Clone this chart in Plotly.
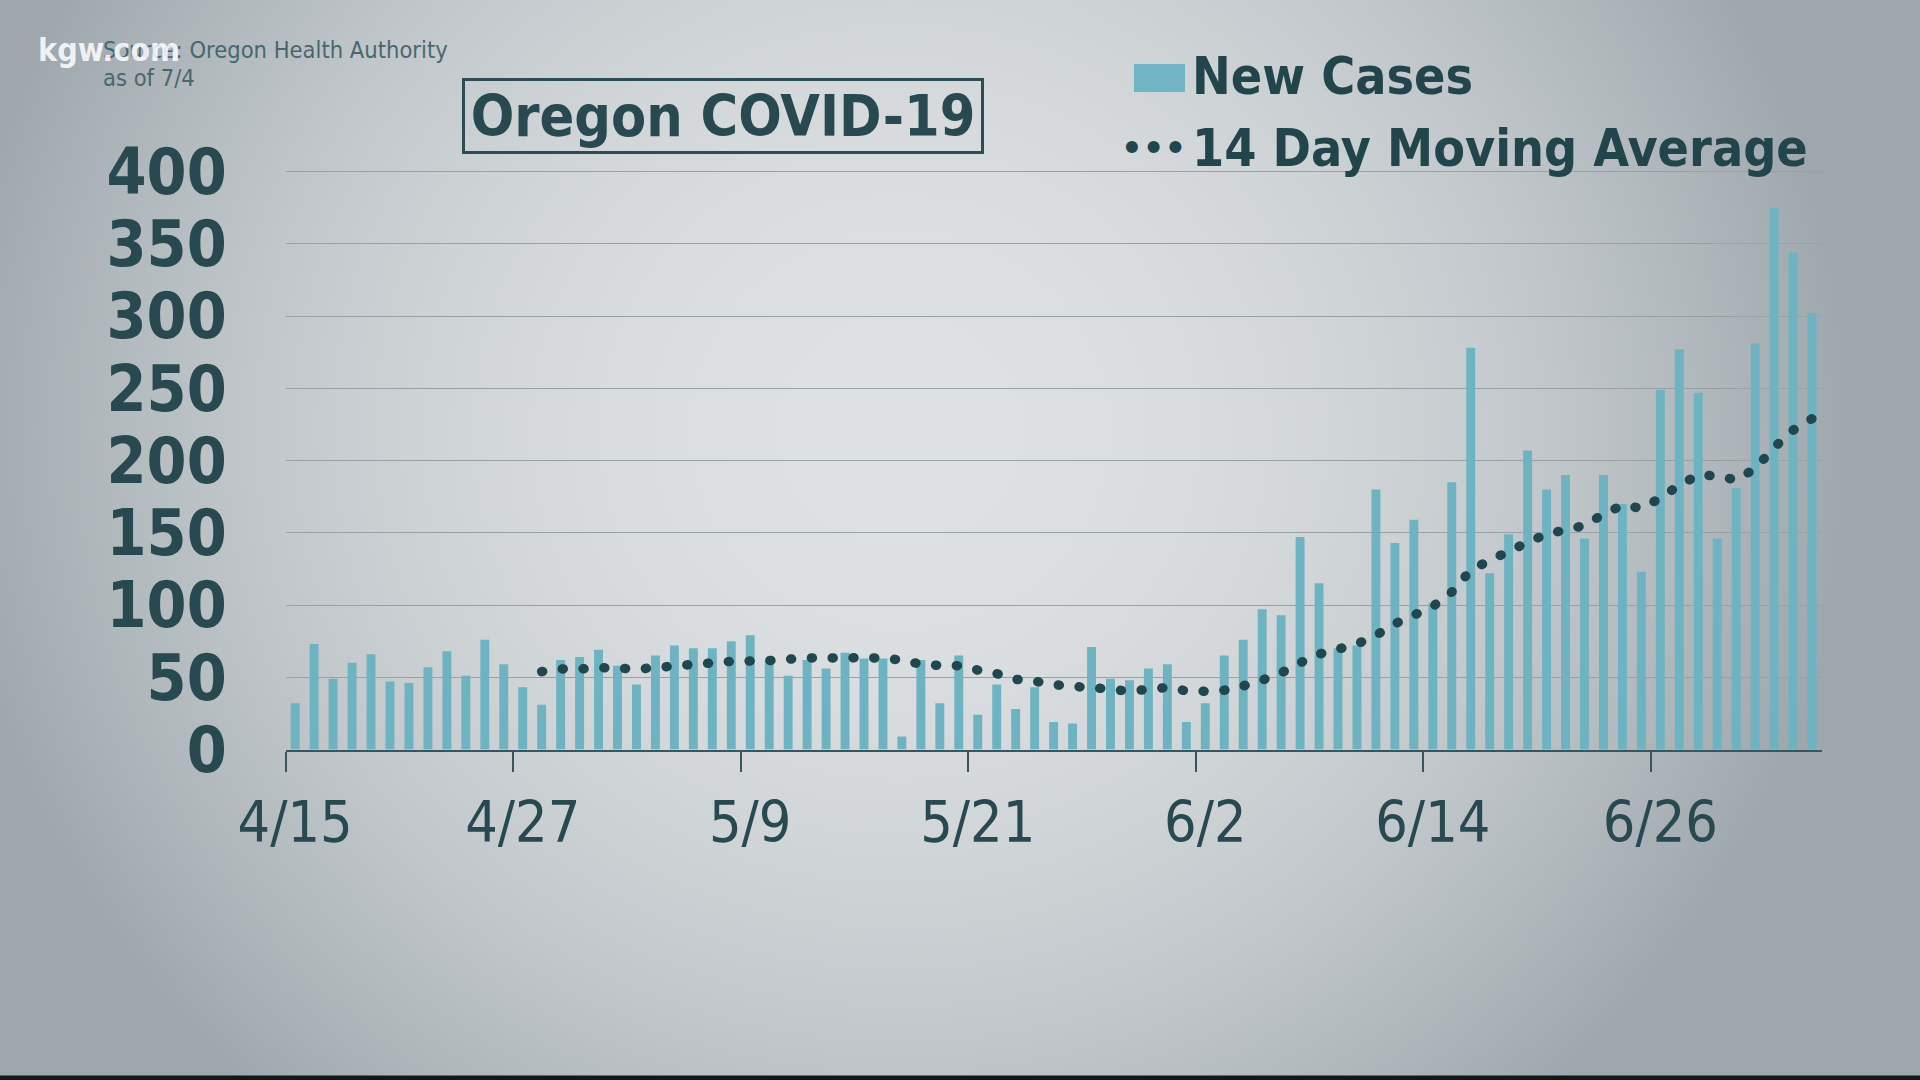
import base64
import struct
import zlib

import numpy as np
import pandas as pd
import plotly.graph_objects as go

# ---------------- data ----------------
start_date = "2020-04-15"
end_date = "2020-07-04"

new_cases = [
    # April 15-30
    32, 73, 49, 60, 66, 47, 46, 57, 68, 51, 76, 59, 43, 31, 62, 64,
    # May 1-31
    69, 58, 45, 65, 72, 70, 70, 75, 79, 61, 51, 62, 56, 67, 63, 63,
    9, 62, 32, 65, 24, 45, 28, 43, 19, 18, 71, 49, 48, 56, 59,
    # June 1-30
    19, 32, 65, 76, 97, 93, 147, 115, 70, 72, 180, 143, 159, 101, 185,
    278, 122, 149, 207, 180, 190, 146, 190, 170, 123, 249, 277, 247, 146, 181,
    # July 1-4
    281, 375, 344, 302,
]

ma_start_date = "2020-04-28"
moving_avg = [
    53.9, 55.8, 55.7, 56.6, 56.3, 55.8, 56.5, 57.9, 58.9, 59.9,      # 4/28 - 5/7
    61.0, 61.3, 61.6, 62.5, 63.4, 63.4, 63.3, 63.8, 63.0, 62.0,      # 5/8 - 5/17
    59.0, 58.2, 58.0, 55.0, 52.5, 48.6, 47.3, 45.0, 43.5, 43.1,      # 5/18 - 5/27
    41.5, 40.5, 41.5, 43.0, 40.6, 40.3, 41.0, 44.0, 48.0, 53.0,      # 5/28 - 6/6
    60.0, 66.0, 69.5, 73.0, 79.0, 87.0, 93.0, 99.0, 109.0, 124.0,    # 6/7 - 6/16
    131.0, 137.0, 143.5, 149.0, 152.0, 155.0, 163.0, 169.0, 167.0, 174.0,  # 6/17 - 6/26
    183.0, 190.0, 189.5, 186.5, 194.5, 209.0, 221.0, 229.0,          # 6/27 - 7/4
]

y_ticks = [0, 50, 100, 150, 200, 250, 300, 350, 400]
label_every = 12

title_text = "Oregon COVID-19"
legend_bar_text = "New Cases"
legend_line_text = "14 Day Moving Average"
source_line1 = "Source: Oregon Health Authority"
source_line2 = "as of 7/4"
watermark = "kgw.com"

# ---------------- derived ----------------
dates = pd.date_range(start_date, end_date, freq="D")
ma_dates = pd.date_range(ma_start_date, periods=len(moving_avg), freq="D")
label_dates = dates[::label_every]
label_text = [f"{d.month}/{d.day}" for d in label_dates]
half_day = pd.Timedelta(hours=12)
boundary_dates = label_dates - half_day
x_range = [dates[0] - half_day, dates[-1] + half_day]

W, H = 1920, 1080
COND = "DejaVu Sans Condensed, DejaVu Sans, sans-serif"
DARK = "#27494f"


# ---------------- background vignette as an image ----------------
def png_data_uri(arr):
    h, w, _ = arr.shape
    raw = b"".join(b"\x00" + arr[i].tobytes() for i in range(h))

    def chunk(tag, data):
        c = struct.pack(">I", len(data)) + tag + data
        return c + struct.pack(">I", zlib.crc32(tag + data) & 0xFFFFFFFF)

    png = (b"\x89PNG\r\n\x1a\n"
           + chunk(b"IHDR", struct.pack(">IIBBBBB", w, h, 8, 2, 0, 0, 0))
           + chunk(b"IDAT", zlib.compress(raw, 9))
           + chunk(b"IEND", b""))
    return "data:image/png;base64," + base64.b64encode(png).decode()


bw, bh = 480, 270
yy, xx = np.mgrid[0:bh, 0:bw].astype(float)
xx = (xx + 0.5) * W / bw
yy = (yy + 0.5) * H / bh
t2 = ((xx - 900) / 1000) ** 2 + ((yy - 430) / 950) ** 2
t2 = np.clip(t2, 0, 0.92)
c0 = np.array([223, 226, 228], float)
c1 = np.array([152, 162, 168], float)
bg = c0[None, None, :] + (c1 - c0)[None, None, :] * t2[..., None]
bg = np.clip(bg, 0, 255).astype(np.uint8)
bg_uri = png_data_uri(bg)

# ---------------- figure ----------------
fig = go.Figure()
fig.add_trace(go.Bar(
    x=dates, y=new_cases, marker=dict(color="#6db3c2", line=dict(width=0)),
    showlegend=False, hoverinfo="skip",
))
fig.add_trace(go.Scatter(
    x=ma_dates, y=moving_avg, mode="lines",
    line=dict(color="#21474e", width=9.5, dash="1px,19.8px", simplify=False),
    showlegend=False, hoverinfo="skip",
))
# invisible helper so the label axis exists
fig.add_trace(go.Scatter(
    x=label_dates, y=[0] * len(label_dates), xaxis="x2", mode="markers",
    marker=dict(opacity=0), showlegend=False, hoverinfo="skip",
))

x_dom = [285.7 / W, 1821.5 / W]
y0_px, y400_px = 749.5, 171.6
ppu = (y0_px - y400_px) / 400
y_top = 410
y_dom = [1 - y0_px / H, 1 - (y0_px - y_top * ppu) / H]

fig.update_layout(
    width=W, height=H,
    margin=dict(l=0, r=0, t=0, b=0, pad=0, autoexpand=False),
    paper_bgcolor="#c8cdd0",
    plot_bgcolor="rgba(0,0,0,0)",
    bargap=0.53,
    showlegend=False,
    xaxis=dict(
        type="date", domain=x_dom, range=x_range, anchor="y", automargin=False,
        tickmode="array", tickvals=boundary_dates, ticktext=[""] * len(boundary_dates),
        ticks="outside", ticklen=20, tickwidth=2, tickcolor="#3a565d",
        showline=True, linecolor="#3a565d", linewidth=2,
        showgrid=False, zeroline=False, fixedrange=True,
    ),
    xaxis2=dict(
        type="date", overlaying="x", anchor="y", side="bottom", range=x_range,
        automargin=False,
        tickmode="array", tickvals=label_dates, ticktext=label_text,
        ticks="", showline=False, showgrid=False, zeroline=False,
        tickfont=dict(family=COND, size=57, color=DARK),
        ticklabelstandoff=34, fixedrange=True,
    ),
    yaxis=dict(
        domain=y_dom, range=[0, y_top], tickmode="array", tickvals=y_ticks,
        automargin=False,
        showgrid=True, gridcolor="#9aa1a5", gridwidth=1.2,
        zeroline=False, showline=False, ticks="",
        tickfont=dict(family=COND, size=64, color=DARK, weight="bold"),
        ticklabelstandoff=58, fixedrange=True,
    ),
    images=[dict(
        source=bg_uri, xref="paper", yref="paper", x=0, y=1, sizex=1, sizey=1,
        xanchor="left", yanchor="top", sizing="stretch", layer="below",
    )],
    shapes=[
        dict(type="rect", xref="paper", yref="paper",
             x0=1134 / W, x1=1185 / W, y0=1 - 92 / H, y1=1 - 64 / H,
             fillcolor="#71b5c4", line=dict(width=0)),
        dict(type="rect", xref="paper", yref="paper",
             x0=0, x1=1, y0=0, y1=4.5 / H,
             fillcolor="#161616", line=dict(width=0)),
    ],
    annotations=[
        dict(text=title_text, xref="paper", yref="paper", x=722.5 / W, y=1 - 115.7 / H,
             xanchor="center", yanchor="middle", showarrow=False,
             width=512, height=66, borderpad=2, borderwidth=3, bordercolor="#2c4d54",
             font=dict(family=COND, size=57, color=DARK, weight="bold")),
        dict(text=legend_bar_text, xref="paper", yref="paper", x=1190 / W, y=1 - 75.5 / H,
             xanchor="left", yanchor="middle", showarrow=False,
             font=dict(family=COND, size=51.5, color="#22444b", weight="bold")),
        dict(text=legend_line_text, xref="paper", yref="paper", x=1190 / W, y=1 - 147.5 / H,
             xanchor="left", yanchor="middle", showarrow=False,
             font=dict(family=COND, size=51.5, color="#22444b", weight="bold")),
        dict(text="•••", xref="paper", yref="paper", x=1153.5 / W, y=1 - 148 / H,
             xanchor="center", yanchor="middle", showarrow=False,
             font=dict(family="DejaVu Sans", size=34, color="#21474e", weight="bold")),
        dict(text=source_line1, xref="paper", yref="paper", x=101 / W, y=1 - 50 / H,
             xanchor="left", yanchor="middle", showarrow=False,
             font=dict(family=COND, size=23.5, color="#48676f")),
        dict(text=source_line2, xref="paper", yref="paper", x=101 / W, y=1 - 78 / H,
             xanchor="left", yanchor="middle", showarrow=False,
             font=dict(family=COND, size=23.5, color="#48676f")),
        dict(text=watermark, xref="paper", yref="paper", x=36 / W, y=1 - 50 / H,
             xanchor="left", yanchor="middle", showarrow=False,
             font=dict(family=COND, size=32, color="rgba(255,255,255,0.85)", weight="bold")),
    ],
)

post = """
document.body.style.margin='0';
document.body.style.overflow='hidden';
var gd=document.getElementById('{plot_id}');
function roundCaps(){
  gd.querySelectorAll('.scatterlayer .js-line').forEach(function(p){
    p.style.strokeLinecap='round';
  });
}
roundCaps();
gd.on('plotly_afterplot', roundCaps);
"""

fig.write_html("out.html", config={"displayModeBar": False}, post_script=post)
